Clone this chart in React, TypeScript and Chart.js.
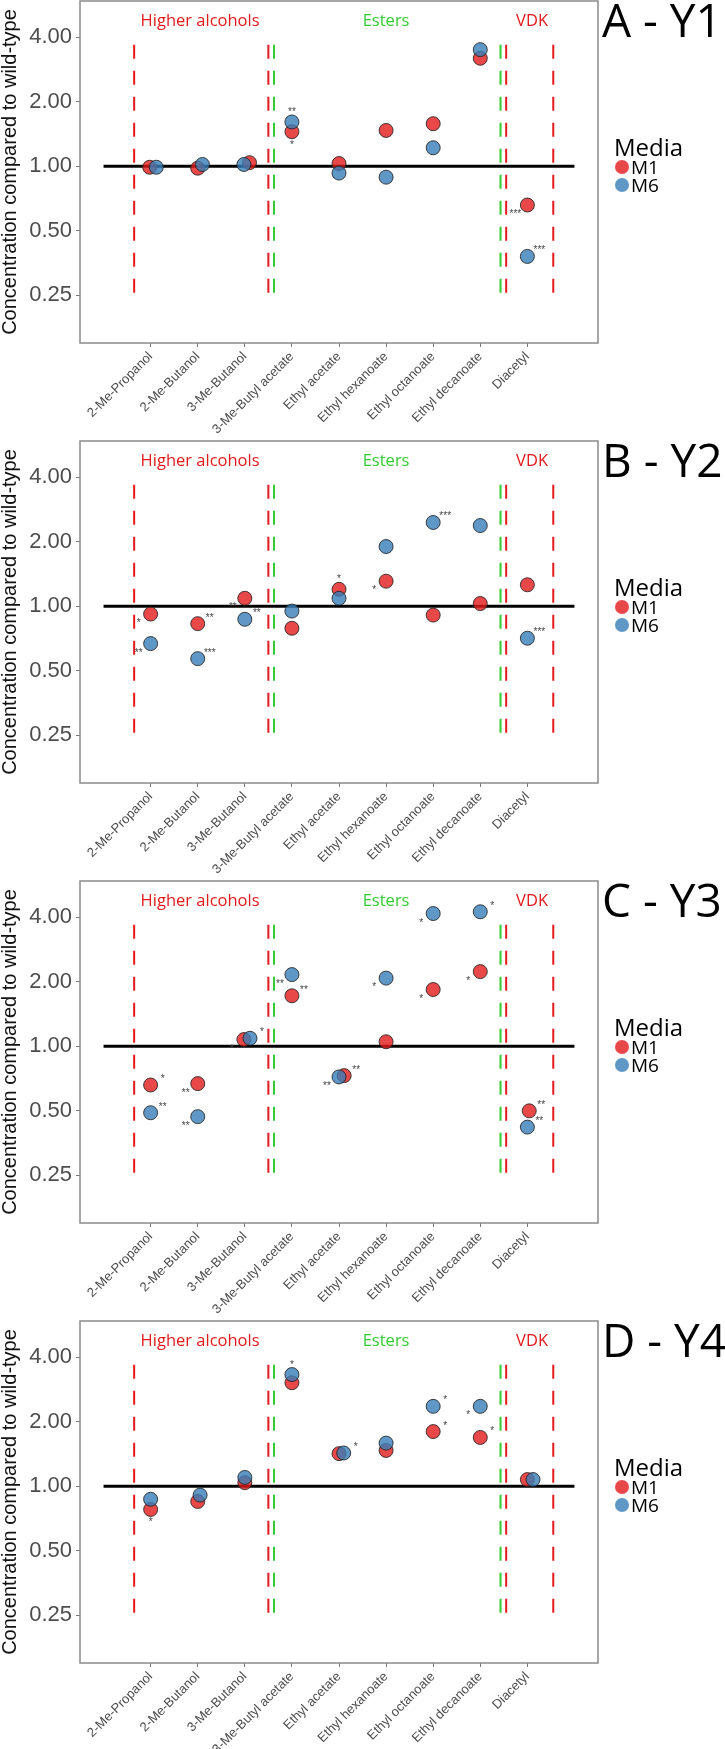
import React, { useEffect, useRef } from "react";
import { Chart, registerables } from "chart.js";
Chart.register(...registerables);

// ---------- data ----------
const categories = [
  "2-Me-Propanol",
  "2-Me-Butanol",
  "3-Me-Butanol",
  "3-Me-Butyl acetate",
  "Ethyl acetate",
  "Ethyl hexanoate",
  "Ethyl octanoate",
  "Ethyl decanoate",
  "Diacetyl",
];
const yTicks = [0.25, 0.5, 1, 2, 4];
const panelTitles = ["A - Y1", "B - Y2", "C - Y3", "D - Y4"];
const seriesNames = ["M1", "M6"];
const legendTitle = "Media";
const yAxisTitle = "Concentration compared to wild-type";

const groupLabels = ["Higher alcohols", "Esters", "VDK"];
const groupLabelX = [2.05, 6.0, 9.1];
const groupLabelY = 4.75;
const redDividers = [0.65, 3.5, 8.55, 9.55];
const greenDividers = [3.62, 8.43];
const dividerSpan = [0.257, 3.75];
const refLineSpan = [0, 10];
const refValue = 1;

// Panel A - Y1
const y1M1 = [0.99, 0.98, 1.04, 1.45, 1.03, 1.47, 1.58, 3.19, 0.66];
const y1M6 = [0.99, 1.02, 1.02, 1.61, 0.93, 0.89, 1.22, 3.5, 0.38];
const y1M1Stars = ["", "", "", "*", "", "", "", "", "***"];
const y1M6Stars = ["", "", "", "**", "", "", "", "", "***"];
const y1M1StarPos = ["", "", "", "b", "", "", "", "", "ll"];
const y1M6StarPos = ["", "", "", "a", "", "", "", "", "ur"];
const y1M1Jitter = [-0.02, 0, 0.1, 0, 0, 0, 0, 0, 0];
const y1M6Jitter = [0.12, 0.1, -0.02, 0, 0, 0, 0, 0, 0];

// Panel B - Y2
const y2M1 = [0.92, 0.83, 1.09, 0.79, 1.2, 1.31, 0.91, 1.03, 1.26];
const y2M6 = [0.67, 0.57, 0.87, 0.95, 1.09, 1.9, 2.46, 2.38, 0.71];
const y2M1Stars = ["*", "**", "**", "", "*", "*", "", "", ""];
const y2M6Stars = ["**", "***", "**", "", "", "", "***", "", "***"];
const y2M1StarPos = ["ll", "ur", "ll", "", "a", "ll", "", "", ""];
const y2M6StarPos = ["ll", "ur", "ur", "", "", "", "ur", "", "ur"];
const y2M1Jitter = [0, 0, 0, 0, 0, 0, 0, 0, 0];
const y2M6Jitter = [0, 0, 0, 0, 0, 0, 0, 0, 0];

// Panel C - Y3
const y3M1 = [0.66, 0.67, 1.075, 1.72, 0.73, 1.05, 1.84, 2.23, 0.5];
const y3M6 = [0.49, 0.47, 1.09, 2.16, 0.72, 2.08, 4.16, 4.24, 0.42];
const y3M1Stars = ["*", "**", "*", "**", "**", "", "*", "*", "**"];
const y3M6Stars = ["**", "**", "*", "**", "**", "*", "*", "*", "**"];
const y3M1StarPos = ["ur", "ll", "ll", "ur", "ur", "", "ll", "ll", "ur"];
const y3M6StarPos = ["ur", "ll", "ur", "ll", "ll", "ll", "ll", "ur", "ur"];
const y3M1Jitter = [0, 0, -0.02, 0, 0.11, 0, 0, 0, 0.04];
const y3M6Jitter = [0, 0, 0.11, 0, 0, 0, 0, 0, 0];

// Panel D - Y4
const y4M1 = [0.78, 0.85, 1.04, 3.04, 1.42, 1.47, 1.8, 1.69, 1.075];
const y4M6 = [0.87, 0.91, 1.1, 3.32, 1.43, 1.59, 2.36, 2.36, 1.075];
const y4M1Stars = ["*", "", "", "", "", "", "*", "*", ""];
const y4M6Stars = ["", "", "", "*", "*", "", "*", "*", ""];
const y4M1StarPos = ["b", "", "", "", "", "", "ur", "ur", ""];
const y4M6StarPos = ["", "", "", "a", "ur", "", "ur", "ll", ""];
const y4M1Jitter = [0, 0, 0, 0, 0, 0, 0, 0, 0];
const y4M6Jitter = [0, 0.05, 0, 0, 0.1, 0, 0, 0, 0.12];

// ---------- styles ----------
const RED = "#E41A1C";
const GREEN = "#33CC33";
const groupColors = [RED, GREEN, RED];
const M1_FILL = "rgba(228,26,28,0.8)";
const M6_FILL = "rgba(55,126,184,0.8)";
const POINT_BORDER = "rgba(35,35,35,0.85)";
const SANS = "'Liberation Sans', Arial, sans-serif";
const OPEN = "'Open Sans', 'Noto Sans', sans-serif";
const starOffsets: Record<string, [number, number]> = {
  a: [0, -12],
  b: [0, 11],
  ur: [12, -8],
  ll: [-12, 7],
};

type Panel = {
  title: string;
  m1: number[];
  m6: number[];
  m1Stars: string[];
  m6Stars: string[];
  m1StarPos: string[];
  m6StarPos: string[];
  m1Jitter: number[];
  m6Jitter: number[];
};

const panels: Panel[] = [
  { title: panelTitles[0], m1: y1M1, m6: y1M6, m1Stars: y1M1Stars, m6Stars: y1M6Stars, m1StarPos: y1M1StarPos, m6StarPos: y1M6StarPos, m1Jitter: y1M1Jitter, m6Jitter: y1M6Jitter },
  { title: panelTitles[1], m1: y2M1, m6: y2M6, m1Stars: y2M1Stars, m6Stars: y2M6Stars, m1StarPos: y2M1StarPos, m6StarPos: y2M6StarPos, m1Jitter: y2M1Jitter, m6Jitter: y2M6Jitter },
  { title: panelTitles[2], m1: y3M1, m6: y3M6, m1Stars: y3M1Stars, m6Stars: y3M6Stars, m1StarPos: y3M1StarPos, m6StarPos: y3M6StarPos, m1Jitter: y3M1Jitter, m6Jitter: y3M6Jitter },
  { title: panelTitles[3], m1: y4M1, m6: y4M6, m1Stars: y4M1Stars, m6Stars: y4M6Stars, m1StarPos: y4M1StarPos, m6StarPos: y4M6StarPos, m1Jitter: y4M1Jitter, m6Jitter: y4M6Jitter },
];

function PanelChart({ panel, height }: { panel: Panel; height: number }) {
  const ref = useRef<HTMLCanvasElement>(null);
  useEffect(() => {
    const canvas = ref.current;
    if (!canvas) return;
    const plotBottom = 343;
    const xAxisHeight = height - plotBottom;

    const m1Data = panel.m1.map((v, i) => ({ x: i + 1 + panel.m1Jitter[i], y: v }));
    const m6Data = panel.m6.map((v, i) => ({ x: i + 1 + panel.m6Jitter[i], y: v }));

    const dividerSet = (x: number, color: string) => ({
      data: [
        { x, y: dividerSpan[0] },
        { x, y: dividerSpan[1] },
      ],
      showLine: true,
      borderColor: color,
      borderWidth: 2,
      borderDash: [14, 12],
      pointRadius: 0,
      order: 6,
    });

    const datasets: any[] = [
      ...redDividers.map((x) => dividerSet(x, RED)),
      ...greenDividers.map((x) => dividerSet(x, GREEN)),
      {
        data: [
          { x: refLineSpan[0], y: refValue },
          { x: refLineSpan[1], y: refValue },
        ],
        showLine: true,
        borderColor: "#000",
        borderWidth: 3,
        pointRadius: 0,
        order: 5,
      },
      {
        label: seriesNames[0],
        data: m1Data,
        backgroundColor: M1_FILL,
        borderColor: POINT_BORDER,
        borderWidth: 1,
        pointRadius: 7,
        order: 2,
      },
      {
        label: seriesNames[1],
        data: m6Data,
        backgroundColor: M6_FILL,
        borderColor: POINT_BORDER,
        borderWidth: 1,
        pointRadius: 7,
        order: 1,
      },
    ];
    const m1Index = datasets.length - 2;
    const m6Index = datasets.length - 1;

    const decor = {
      id: "decor",
      afterDatasetsDraw(chart: any) {
        const ctx = chart.ctx;
        ctx.save();
        ctx.fillStyle = "#444";
        ctx.font = `10px ${SANS}`;
        ctx.textAlign = "center";
        ctx.textBaseline = "alphabetic";
        const drawStars = (idx: number, stars: string[], pos: string[]) => {
          const meta = chart.getDatasetMeta(idx);
          stars.forEach((s, i) => {
            if (!s) return;
            const el = meta.data[i];
            const off = starOffsets[pos[i]] || [0, -12];
            ctx.fillText(s, el.x + off[0], el.y + off[1] + 5);
          });
        };
        drawStars(m1Index, panel.m1Stars, panel.m1StarPos);
        drawStars(m6Index, panel.m6Stars, panel.m6StarPos);
        ctx.restore();
      },
      afterDraw(chart: any) {
        const ctx = chart.ctx;
        const a = chart.chartArea;
        const xs = chart.scales.x;
        const ys = chart.scales.y;
        ctx.save();
        // panel border
        ctx.strokeStyle = "#8a8a8a";
        ctx.lineWidth = 1.5;
        ctx.strokeRect(a.left, a.top, a.right - a.left, a.bottom - a.top);
        // group labels
        ctx.font = `16.5px ${OPEN}`;
        ctx.textAlign = "center";
        ctx.textBaseline = "middle";
        groupLabels.forEach((g, i) => {
          ctx.fillStyle = groupColors[i];
          ctx.fillText(g, xs.getPixelForValue(groupLabelX[i]), ys.getPixelForValue(groupLabelY));
        });
        // panel title
        ctx.fillStyle = "#000";
        ctx.font = `46px ${OPEN}`;
        ctx.textAlign = "left";
        ctx.textBaseline = "alphabetic";
        ctx.fillText(panel.title, 602, 37);
        // legend
        ctx.font = `24px ${OPEN}`;
        ctx.fillText(legendTitle, 614, 156);
        const fills = [M1_FILL, M6_FILL];
        seriesNames.forEach((n, i) => {
          const cy = 167 + i * 18;
          ctx.beginPath();
          ctx.arc(622, cy, 7, 0, Math.PI * 2);
          ctx.fillStyle = fills[i];
          ctx.fill();
          ctx.fillStyle = "#000";
          ctx.font = `19px ${OPEN}`;
          ctx.fillText(n, 631, cy + 7);
        });
        ctx.restore();
      },
    };

    const chart = new Chart(canvas, {
      type: "scatter",
      data: { datasets },
      plugins: [decor],
      options: {
        responsive: false,
        animation: false,
        events: [],
        layout: { autoPadding: false, padding: { top: 1, right: 127, left: 0, bottom: 0 } },
        plugins: {
          legend: { display: false },
          tooltip: { enabled: false },
          title: { display: false },
        },
        scales: {
          x: {
            type: "linear",
            min: -0.5,
            max: 10.5,
            bounds: "data",
            border: { display: false },
            grid: {
              display: true,
              drawOnChartArea: false,
              drawTicks: true,
              tickLength: 4,
              tickColor: "#777",
            },
            ticks: {
              autoSkip: false,
              maxRotation: 45,
              minRotation: 45,
              padding: 2,
              color: "#4d4d4d",
              font: { family: SANS, size: 13 },
              callback: (v: any) => categories[Math.round(Number(v)) - 1] ?? "",
            },
            afterBuildTicks: (scale: any) => {
              scale.ticks = categories.map((_, i) => ({ value: i + 1 }));
            },
            afterFit: (scale: any) => {
              scale.height = xAxisHeight;
              scale.paddingLeft = 0;
              scale.paddingRight = 0;
            },
          },
          y: {
            type: "logarithmic",
            min: 0.15,
            max: 5.9,
            bounds: "data",
            border: { display: false },
            grid: {
              display: true,
              drawOnChartArea: false,
              drawTicks: true,
              tickLength: 4,
              tickColor: "#777",
            },
            title: {
              display: true,
              text: yAxisTitle,
              color: "#111",
              font: { family: SANS, size: 20, lineHeight: 1 },
              padding: { top: 0, bottom: 0 },
            },
            ticks: {
              padding: 4,
              color: "#4d4d4d",
              font: { family: SANS, size: 22 },
              callback: (v: any) => Number(v).toFixed(2),
            },
            afterBuildTicks: (scale: any) => {
              scale.ticks = yTicks.map((v) => ({ value: v }));
            },
            afterFit: (scale: any) => {
              scale.width = 80;
              scale.paddingTop = 0;
              scale.paddingBottom = 0;
            },
          },
        },
      } as any,
    });
    return () => chart.destroy();
  }, [panel, height]);
  return (
    <canvas
      ref={ref}
      width={725}
      height={height}
      style={{ display: "block", width: 725, height }}
    />
  );
}

export default function App() {
  useEffect(() => {
    document.body.style.margin = "0";
    document.body.style.background = "#fff";
  }, []);
  return (
    <div style={{ width: 725, background: "#fff" }}>
      {panels.map((p, i) => (
        <PanelChart key={i} panel={p} height={i === panels.length - 1 ? 429 : 440} />
      ))}
    </div>
  );
}
